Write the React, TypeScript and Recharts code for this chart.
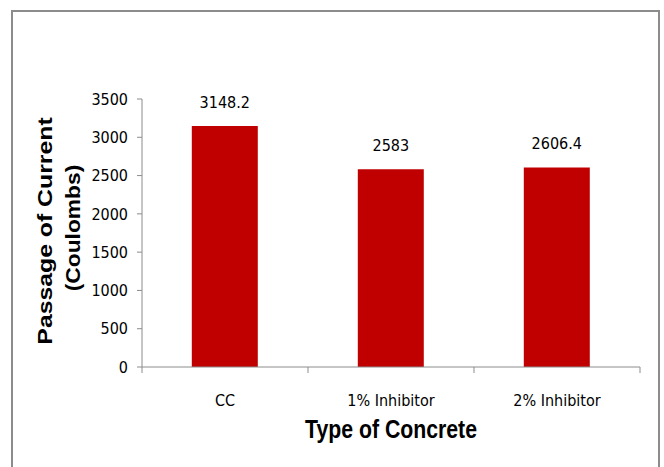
import React from 'react';
import { BarChart, Bar, XAxis, YAxis, LabelList } from 'recharts';

const categories = ['CC', '1% Inhibitor', '2% Inhibitor'];
const charge = [3148.2, 2583, 2606.4];
const yTicks = [0, 500, 1000, 1500, 2000, 2500, 3000, 3500];

const data = categories.map((name, i) => ({ name, value: charge[i] }));

const tickFont = "'Liberation Sans Narrow', 'Arial Narrow', 'DejaVu Sans Condensed', sans-serif";
const titleFont = "'Liberation Sans', Arial, sans-serif";
const axisGrey = '#8c8c8c';

// two-line rotated title, stretched a bit along its length like the original
const YTitle = (props: any) => {
  const { viewBox } = props;
  const mid = viewBox.y + viewBox.height / 2;
  const b1 = viewBox.x + 52;
  const b2 = viewBox.x + 80;
  return (
    <g fontFamily={titleFont} fontWeight="bold" fontSize={20} fill="#000">
      <text x={0} y={0} transform={`translate(${b1} ${mid - 2}) rotate(-90) scale(1.24 1)`} textAnchor="middle">Passage of Current</text>
      <text x={0} y={0} transform={`translate(${b2} ${mid - 5}) rotate(-90) scale(1.14 1)`} textAnchor="middle">(Coulombs)</text>
    </g>
  );
};

const XTitle = (props: any) => {
  const { viewBox } = props;
  const cx = viewBox.x + viewBox.width / 2;
  const base = viewBox.y + 71;
  return (
    <text x={0} y={0} transform={`translate(${cx} ${base}) scale(0.85 1)`} textAnchor="middle"
      fontFamily={titleFont} fontWeight="bold" fontSize={25} fill="#000">Type of Concrete</text>
  );
};

// category label plus Excel-style tick marks on the category boundaries
const CatTick = (props: any) => {
  const { x, y, payload, index, visibleTicksCount } = props;
  const half = payload.offset || 0;
  const axisY = y - 28;
  return (
    <g>
      <line x1={x - half} y1={axisY} x2={x - half} y2={axisY + 6} stroke={axisGrey} />
      {index === visibleTicksCount - 1 && (
        <line x1={x + half} y1={axisY} x2={x + half} y2={axisY + 6} stroke={axisGrey} />
      )}
      <text x={x} y={y} dy="0.71em" textAnchor="middle" fontFamily={tickFont} fontSize={16} fill="#000">
        {payload.value}
      </text>
    </g>
  );
};

const App = () => {
  return (
    <div style={{ position: 'relative', width: 664, height: 467, overflow: 'hidden', background: '#fff' }}>
      <style>{`body{margin:0}`}</style>
      <div style={{ position: 'absolute', left: 11, top: 10, width: 645, height: 480, border: '2px solid #8c8c8c' }} />
      <div style={{ position: 'absolute', left: 0, top: 0 }}>
        <BarChart width={664} height={467} data={data} margin={{ top: 99, right: 24, bottom: 0, left: 0 }} barCategoryGap="30%">
          <XAxis dataKey="name" axisLine={{ stroke: axisGrey }} tickLine={false} tickSize={0} tickMargin={28} height={100}
            tick={<CatTick />} label={<XTitle />} />
          <YAxis domain={[0, 3500]} ticks={yTicks} width={142} interval={0}
            axisLine={{ stroke: axisGrey }} tickLine={{ stroke: axisGrey }} tickSize={5} tickMargin={9}
            tick={{ fontFamily: tickFont, fontSize: 16, fill: '#000' }}
            label={<YTitle />} />
          <Bar dataKey="value" fill="#c00000" isAnimationActive={false}>
            <LabelList dataKey="value" position="top" offset={18} fontFamily={tickFont} fontSize={16} fill="#000" />
          </Bar>
        </BarChart>
      </div>
    </div>
  );
};

export default App;
